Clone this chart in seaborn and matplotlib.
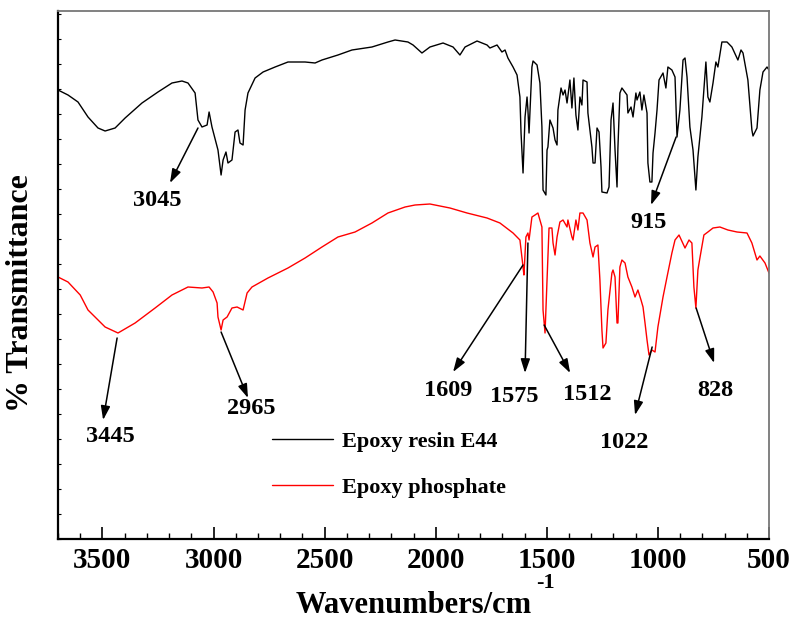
import numpy as np
import pandas as pd
import matplotlib
matplotlib.use("Agg")
import matplotlib.pyplot as plt
from matplotlib.ticker import MultipleLocator, NullFormatter
import seaborn as sns

# ---------------- data ----------------
e44_wn = [3700, 3655, 3610, 3565, 3520, 3488, 3443, 3398, 3322, 3250, 3187, 3142, 3115, 3083,
          3070, 3052, 3029, 3020, 3007, 2980, 2966, 2957, 2944, 2935, 2917, 2903, 2890, 2881,
          2867, 2858, 2845, 2813, 2777, 2723, 2665, 2588, 2543, 2512, 2440, 2377, 2287, 2215,
          2183, 2125, 2102, 2062, 2026, 1967, 1922, 1891, 1868, 1814, 1769, 1756, 1724, 1702,
          1688, 1675, 1652, 1634, 1621, 1616, 1607, 1598, 1589, 1585, 1580, 1567, 1562, 1544,
          1531, 1522, 1517, 1504, 1499, 1495, 1486, 1472, 1463, 1454, 1450, 1436, 1427, 1418,
          1409, 1396, 1387, 1378, 1369, 1360, 1351, 1342, 1337, 1319, 1315, 1297, 1292, 1283,
          1274, 1265, 1256, 1252, 1229, 1220, 1211, 1202, 1193, 1184, 1180, 1171, 1162, 1139,
          1135, 1121, 1112, 1099, 1094, 1081, 1072, 1063, 1049, 1045, 1036, 1027, 1022, 1013,
          1004, 995, 977, 964, 955, 937, 923, 914, 901, 887, 878, 869, 856, 842, 829, 820, 802,
          784, 775, 766, 752, 739, 730, 712, 689, 667, 640, 626, 617, 595, 577, 572, 554, 541,
          527, 509, 500]
e44_t = [89.8, 88.8, 87.4, 84.4, 82.2, 81.6, 82.2, 84.2, 87.2, 89.4, 91.2, 91.6, 91.2, 89.2,
         83.8, 82.4, 82.8, 85.4, 82.4, 77.8, 72.8, 75.8, 77.4, 75.2, 75.8, 81.4, 81.8, 79.2,
         78.8, 85.8, 89.2, 92.2, 93.4, 94.4, 95.4, 95.4, 95.2, 95.8, 96.8, 97.8, 98.4, 99.4,
         99.8, 99.4, 98.8, 97.2, 98.4, 99.2, 98.4, 96.8, 98.4, 99.6, 98.8, 98.2, 98.8, 97.4,
         97.8, 96.2, 94.4, 92.8, 88.4, 81.2, 73.2, 84.4, 88.4, 85.8, 81.2, 94.4, 95.6, 94.8,
         91.2, 82.4, 69.8, 68.8, 77.8, 78.4, 83.8, 82.2, 79.8, 78.8, 85.8, 90.2, 88.8, 89.8,
         87.2, 91.8, 86.2, 92.2, 84.8, 81.8, 88.4, 86.8, 91.8, 91.4, 85.2, 78.4, 75.2, 75.2,
         82.2, 81.4, 74.4, 69.4, 69.2, 70.4, 83.8, 87.2, 77.8, 70.4, 78.2, 89.2, 90.2, 88.8,
         85.2, 86.4, 84.4, 89.2, 87.8, 89.4, 85.8, 88.8, 85.2, 75.2, 71.4, 71.4, 77.2, 81.2,
         85.8, 91.8, 93.2, 90.2, 94.4, 93.8, 92.4, 80.4, 85.8, 95.8, 96.2, 92.4, 82.4, 77.8,
         69.8, 76.4, 84.4, 95.4, 88.4, 87.4, 91.2, 95.4, 94.4, 99.4, 99.4, 98.4, 95.8, 97.8,
         97.2, 91.8, 81.8, 80.6, 82.2, 89.8, 93.4, 94.4, 93.8]

phos_wn = [3700, 3655, 3600, 3565, 3488, 3430, 3353, 3263, 3187, 3115, 3052, 3020, 3002, 2984,
           2980, 2966, 2957, 2939, 2917, 2894, 2867, 2849, 2827, 2755, 2665, 2588, 2512, 2440,
           2363, 2287, 2215, 2138, 2093, 2026, 1936, 1859, 1769, 1711, 1652, 1621, 1607, 1603,
           1594, 1585, 1580, 1567, 1553, 1540, 1522, 1517, 1508, 1499, 1490, 1477, 1472, 1463,
           1454, 1441, 1427, 1409, 1405, 1387, 1382, 1369, 1360, 1351, 1337, 1319, 1306, 1292,
           1283, 1270, 1261, 1252, 1247, 1234, 1225, 1207, 1202, 1193, 1184, 1180, 1171, 1162,
           1148, 1135, 1117, 1103, 1090, 1076, 1067, 1058, 1049, 1040, 1027, 1013, 1000, 977,
           959, 937, 923, 905, 878, 860, 847, 838, 829, 820, 811, 793, 775, 752, 721, 685, 644,
           599, 577, 554, 541, 518, 500]
phos_t = [52.4, 51.4, 48.8, 45.8, 42.4, 41.2, 43.2, 46.2, 48.8, 50.4, 50.2, 50.4, 49.4, 47.2,
          44.4, 41.8, 43.8, 44.4, 46.2, 46.4, 45.8, 49.2, 50.4, 52.2, 54.2, 56.2, 58.4, 60.4,
          61.4, 63.2, 65.2, 66.4, 66.8, 67.0, 66.2, 65.2, 64.2, 63.2, 61.2, 59.8, 54.4, 52.8,
          60.4, 61.2, 59.8, 64.4, 64.8, 65.2, 62.4, 45.8, 41.2, 51.8, 62.2, 62.2, 59.2, 56.8,
          60.4, 63.4, 63.8, 62.4, 63.8, 60.4, 59.8, 63.8, 61.8, 65.2, 65.2, 63.8, 59.2, 56.4,
          58.4, 58.8, 51.8, 41.8, 38.2, 39.2, 45.8, 53.2, 53.8, 52.4, 43.2, 43.2, 54.4, 55.8,
          55.2, 52.4, 50.4, 48.4, 49.8, 47.8, 46.4, 43.2, 39.8, 36.8, 37.8, 37.4, 42.4, 48.4,
          52.4, 57.2, 59.8, 60.8, 58.2, 59.8, 59.2, 50.4, 46.2, 53.8, 56.2, 60.8, 61.4, 62.2,
          62.4, 61.8, 61.4, 61.2, 59.2, 55.8, 56.6, 55.2, 53.2]

series_names = ["Epoxy resin E44", "Epoxy phosphate"]
series_colors = ["black", "red"]

# peak labels: text, peak position, arrow-head position, label position
peak_labels = ["3045", "915", "3445", "2965", "1609", "1575", "1512", "1022", "828"]
peak_wn = [3070, 918, 3434, 2966, 1607, 1585, 1512, 1026, 828]
peak_t = [82.2, 80.4, 40.2, 41.4, 54.8, 59.2, 42.8, 38.4, 46.2]
head_wn = [3196, 1031, 3497, 2845, 1922, 1598, 1395, 1103, 747]
head_t = [71.2, 66.8, 23.8, 28.2, 33.4, 33.2, 33.2, 24.8, 35.2]
text_wn = [3254, 1044, 3465, 2831, 1944, 1647, 1319, 1152, 743]
text_t = [67.6, 63.2, 20.4, 26.2, 29.6, 28.6, 29.0, 19.2, 29.6]

df = pd.concat([
    pd.DataFrame({"wn": e44_wn, "T": e44_t, "Sample": series_names[0]}),
    pd.DataFrame({"wn": phos_wn, "T": phos_t, "Sample": series_names[1]}),
], ignore_index=True)

# ---------------- style ----------------
sns.set_style("white")
plt.rcParams["font.family"] = ["Liberation Serif", "DejaVu Serif"]
plt.rcParams["font.weight"] = "bold"
plt.rcParams["text.color"] = "black"
plt.rcParams["axes.labelcolor"] = "black"
plt.rcParams["xtick.color"] = "black"
plt.rcParams["ytick.color"] = "black"

fig = plt.figure(figsize=(7.92, 6.21), dpi=100)
ax = fig.add_axes([58 / 792, 1 - 539 / 621, 711 / 792, 528 / 621])

sns.lineplot(data=df, x="wn", y="T", hue="Sample", palette=dict(zip(series_names, series_colors)),
             estimator=None, sort=False, linewidth=1.0, legend=False, ax=ax)

ax.set_xlim(3700, 500)
ax.set_ylim(0, 105.6)

ax.xaxis.set_major_locator(MultipleLocator(500))
ax.xaxis.set_minor_locator(MultipleLocator(100))
ax.yaxis.set_major_locator(MultipleLocator(5))
ax.yaxis.set_major_formatter(NullFormatter())
ax.tick_params(axis="x", which="major", direction="in", length=9, width=1.2, pad=6,
               labelsize=21, colors="black", bottom=True, top=False)
ax.tick_params(axis="x", which="minor", direction="in", length=4.5, width=1.0, bottom=True, top=False)
ax.tick_params(axis="y", which="major", direction="in", length=2.5, width=0.8, left=True, right=False)
for lab in ax.get_xticklabels():
    lab.set_fontweight("bold")
    lab.set_color("black")

for side in ["left", "bottom"]:
    ax.spines[side].set_color("black")
    ax.spines[side].set_linewidth(1.6)
for side in ["top", "right"]:
    ax.spines[side].set_color("#777777")
    ax.spines[side].set_linewidth(1.3)

ax.set_xlabel("Wavenumbers/cm", fontsize=22, fontweight="bold", color="black")
ax.xaxis.set_label_coords(0.5, -0.098)
ax.xaxis.label.set_va("top")
ax.text(0.673, -0.084, "-1", transform=ax.transAxes, fontsize=16, fontweight="bold",
        ha="left", va="center", color="black")

ax.set_ylabel("% Transmittance", fontsize=23, fontweight="bold", color="black")
ax.yaxis.set_label_coords(-0.033, 0.466)

# peak annotations
for lab, pw, pt, hw, ht, tw, tt in zip(peak_labels, peak_wn, peak_t, head_wn, head_t, text_wn, text_t):
    ax.annotate("", xy=(hw, ht), xytext=(pw, pt),
                arrowprops=dict(arrowstyle="-|>,head_length=0.6,head_width=0.2", color="black",
                                lw=1.1, shrinkA=0, shrinkB=0, mutation_scale=14))
    ax.text(tw, tt, lab, fontsize=17.5, fontweight="bold", ha="center", va="center", color="black")

# legend
handles = ax.get_lines()[:2]
leg = ax.legend(handles, series_names, loc="upper left",
                bbox_to_anchor=(272 / 792, 1 - 431 / 621), bbox_transform=fig.transFigure,
                frameon=False, borderpad=0, borderaxespad=0, handlelength=2.75,
                handletextpad=0.4, labelspacing=1.15,
                prop={"family": "Liberation Serif", "weight": "bold", "size": 16})
for t in leg.get_texts():
    t.set_color("black")

fig.savefig("out.png", dpi=100)
